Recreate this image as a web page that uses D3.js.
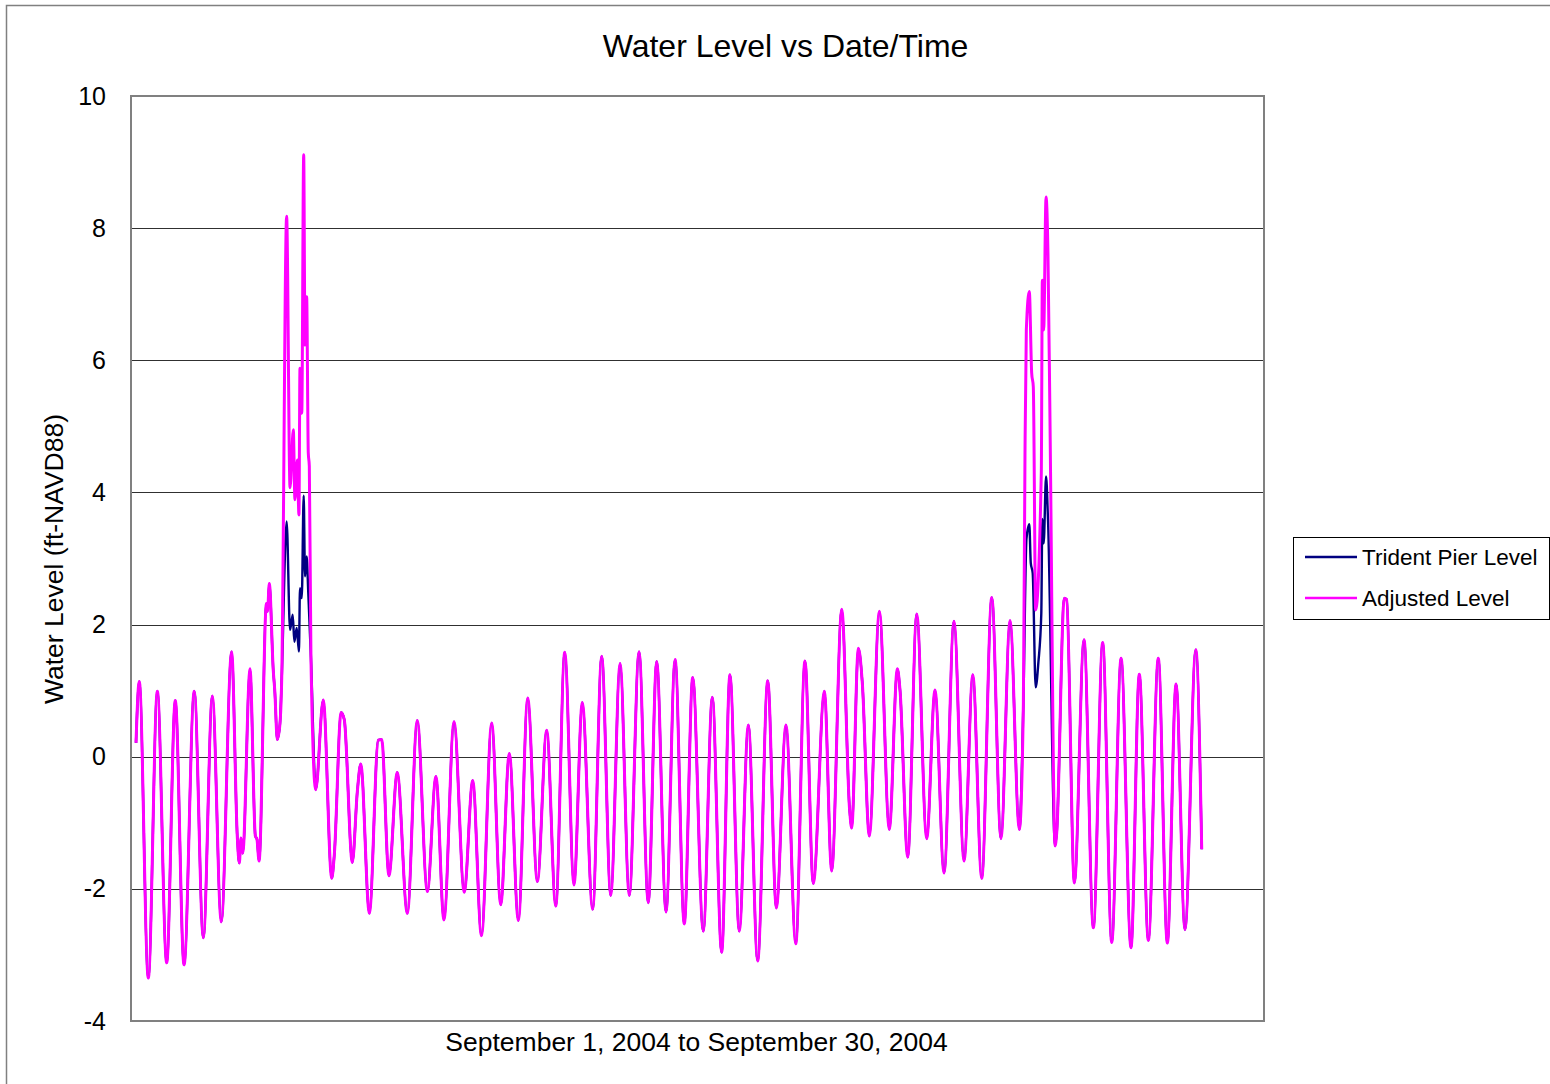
<!DOCTYPE html>
<html>
<head>
<meta charset="utf-8">
<title>Water Level vs Date/Time</title>
<script src="https://cdn.jsdelivr.net/npm/d3@7/dist/d3.min.js"></script>
<style>
  html, body { margin: 0; padding: 0; background: #fff; }
  svg { display: block; font-family: Arial, "Liberation Sans", sans-serif; }
</style>
</head>
<body>
<svg id="chart" width="1550" height="1084"></svg>
<script>
// Hourly record, September 1-30, 2004: hours since Sep 1 00:00 and level in ft (NAVD88).
// Turning points of the tide curve; the line is drawn through them.
const adjustedHours = [
  0, 2.2, 8.3, 14.4, 20.7, 26.5, 32.4, 39.3, 45.4, 51.5, 57.5, 64.5, 68.3, 69.7, 70.8, 72.0,
  76.9, 80.5, 81.6, 83.0, 88.0, 88.7, 89.9, 92.6, 93.6, 95.3, 97.1, 98.3, 101.6, 103.9, 106.1,
  107.2, 108.8, 109.9, 110.6, 111.8, 113.1, 114.0, 115.1, 116.2, 116.9, 118.0, 121.2, 126.3,
  132.0, 133.8, 138.3, 140.5, 145.9, 149.3, 151.6, 157.4, 163.4, 165.7, 170.6, 176.2, 183.0,
  189.7, 196.5, 202.3, 207.7, 214.5, 221.4, 227.1, 233.0, 239.9, 246.0, 251.8, 257.9, 264.2,
  270.7, 277.0, 283.1, 289.2, 295.4, 301.0, 308.0, 314.1, 320.2, 326.5, 332.7, 339.3, 345.5,
  351.2, 357.5, 363.6, 369.8, 375.5, 382.6, 388.7, 395.0, 400.6, 406.9, 413.0, 419.3, 426.1,
  431.9, 438.4, 445.0, 451.2, 456.8, 464.3, 469.2, 476.0, 481.3, 482.7, 487.2, 489.9, 494.6,
  501.4, 508.1, 513.5, 515.3, 520.5, 526.6, 533.3, 538.9, 545.0, 551.7, 558.5, 564.4, 570.4,
  577.2, 583.4, 589.5, 595.8, 598.5, 599.6, 600.5, 602.5, 604.1, 605.2, 606.8, 610.6, 611.3,
  612.2, 613.8, 615.1, 616.5, 619.9, 621.0, 626.1, 627.7, 632.9, 639.4, 645.7, 652.0, 658.1,
  664.4, 671.1, 676.7, 682.8, 689.5, 695.6, 701.5, 707.5, 714.8, 718.8
];
const adjustedLevels = [
  0.21, 1.14, -3.35, 0.99, -3.12, 0.85, -3.15, 0.99, -2.74, 0.92, -2.50, 1.59, -1.20, -1.61, -1.23, -1.46,
  1.33, -1.20, -1.25, -1.58, 2.32, 2.20, 2.62, 1.30, 1.00, 0.26, 0.50, 1.20, 8.18, 4.07, 4.95,
  3.89, 4.49, 3.66, 5.88, 5.20, 9.11, 6.23, 6.96, 4.60, 4.40, 1.50, -0.50, 0.86,
  -1.84, -1.47, 0.67, 0.56, -1.60, -0.52, -0.11, -2.37, 0.25, 0.26, -1.80, -0.24, -2.37,
  0.55, -2.04, -0.30, -2.47, 0.53, -2.05, -0.36, -2.71, 0.51, -2.24, 0.05, -2.48, 0.89,
  -1.89, 0.40, -2.26, 1.58, -1.94, 0.82, -2.31, 1.52, -2.10, 1.41, -2.10, 1.59, -2.21,
  1.44, -2.35, 1.47, -2.53, 1.20, -2.64, 0.90, -2.96, 1.24, -2.64, 0.48, -3.09, 1.15,
  -2.29, 0.48, -2.83, 1.45, -1.92, 0.99, -1.73, 2.23, -0.80, -1.08, 1.64, 1.11, -1.20,
  2.20, -1.10, 1.33, 1.01, -1.52, 2.16, -1.24, 1.01, -1.76, 2.05, -1.58, 1.24, -1.84,
  2.41, -1.24, 2.06, -1.10, 0.80, 4.60, 6.46, 7.04, 5.81, 5.60, 2.22, 4.30, 7.21,
  6.46, 8.47, 7.60, 5.00, -1.35, -1.15, 2.40, 2.38, -1.91, 1.77, -2.59, 1.73, -2.81,
  1.49, -2.89, 1.25, -2.78, 1.49, -2.82, 1.10, -2.62, 1.62, -1.40
];

// Trident Pier gauge readings during the two storm surges; elsewhere the
// pier level equals the adjusted level.
const pierStorm1Hours  = [98.3, 101.6, 103.9, 105.7, 106.8, 108.4, 109.9, 110.6, 111.8, 113.1, 114.0, 115.1, 116.2, 118.0];
const pierStorm1Levels = [1.20, 3.56, 1.92, 2.15, 1.74, 1.95, 1.59, 2.55, 2.40, 3.95, 2.73, 3.03, 2.48, 1.50];
const pierStorm2Hours  = [598.5, 600.6, 602.5, 603.5, 604.8, 606.8, 608.6, 610.6, 611.3, 612.2, 613.8, 615.1, 619.9];
const pierStorm2Levels = [0.80, 3.30, 3.52, 2.93, 2.78, 1.05, 1.42, 2.17, 3.60, 3.23, 4.24, 3.60, -1.35];

const yTicks = [-4, -2, 0, 2, 4, 6, 8, 10];
const seriesNames = ["Trident Pier Level", "Adjusted Level"];
const seriesColors = ["#000080", "#FF00FF"];

// Build point lists
const adjusted = adjustedHours.map((h, i) => ({ h, v: adjustedLevels[i] }));
const storms = [
  pierStorm1Hours.map((h, i) => ({ h, v: pierStorm1Levels[i] })),
  pierStorm2Hours.map((h, i) => ({ h, v: pierStorm2Levels[i] }))
];
let pier = adjusted.filter(p => !storms.some(s => p.h >= s[0].h && p.h <= s[s.length - 1].h));
storms.forEach(s => { pier = pier.concat(s); });
pier.sort((a, b) => a.h - b.h);

const svg = d3.select("#chart");
const plot = { left: 131, top: 96, right: 1264, bottom: 1021 };

// Chart area border (only left and top edges fall inside the canvas)
svg.append("rect")
  .attr("x", 6.5).attr("y", 5.5)
  .attr("width", 1600).attr("height", 1200)
  .attr("fill", "#fff").attr("stroke", "#808080").attr("stroke-width", 1.5);

const x = d3.scaleLinear().domain([-3.37, 760.8]).range([plot.left, plot.right]);
const y = d3.scaleLinear().domain([-4, 10]).range([plot.bottom, plot.top]);

// Horizontal gridlines
svg.append("g")
  .selectAll("line")
  .data(yTicks.filter(t => t > -4 && t < 10))
  .join("line")
  .attr("x1", plot.left).attr("x2", plot.right)
  .attr("y1", d => Math.round(y(d)) + 0.5).attr("y2", d => Math.round(y(d)) + 0.5)
  .attr("stroke", "#303030").attr("stroke-width", 1);

// Y axis labels (plain hyphen for negatives)
const yAxis = d3.axisLeft(y).tickValues(yTicks).tickSize(0).tickPadding(25).tickFormat(d => String(d));
const gy = svg.append("g").attr("transform", `translate(${plot.left},0)`).call(yAxis);
gy.select(".domain").remove();
gy.selectAll("text")
  .attr("font-family", "Arial, 'Liberation Sans', sans-serif")
  .attr("font-size", 25).attr("fill", "#000");

// Series lines
const line = d3.line().x(d => x(d.h)).y(d => y(d.v)).curve(d3.curveMonotoneX);
svg.append("path").datum(pier)
  .attr("d", line).attr("fill", "none")
  .attr("stroke", seriesColors[0]).attr("stroke-width", 2.4).attr("stroke-linejoin", "round");
svg.append("path").datum(adjusted)
  .attr("d", line).attr("fill", "none")
  .attr("stroke", seriesColors[1]).attr("stroke-width", 3).attr("stroke-linejoin", "round");

// Plot frame
svg.append("rect")
  .attr("x", plot.left).attr("y", plot.top)
  .attr("width", plot.right - plot.left).attr("height", plot.bottom - plot.top)
  .attr("fill", "none").attr("stroke", "#808080").attr("stroke-width", 2);

// Titles
svg.append("text")
  .attr("x", 785.5).attr("y", 57).attr("text-anchor", "middle")
  .attr("font-size", 32).attr("fill", "#000")
  .text("Water Level vs Date/Time");
svg.append("text")
  .attr("transform", "translate(63,559) rotate(-90)")
  .attr("text-anchor", "middle").attr("font-size", 26.5).attr("fill", "#000")
  .text("Water Level (ft-NAVD88)");
svg.append("text")
  .attr("x", 696.5).attr("y", 1051).attr("text-anchor", "middle")
  .attr("font-size", 26.5).attr("fill", "#000")
  .text("September 1, 2004 to September 30, 2004");

// Legend
const legend = svg.append("g");
legend.append("rect")
  .attr("x", 1293.5).attr("y", 537.5).attr("width", 256).attr("height", 82)
  .attr("fill", "#fff").attr("stroke", "#000").attr("stroke-width", 1);
seriesNames.forEach((name, i) => {
  const ly = 557 + i * 41;
  legend.append("line")
    .attr("x1", 1305).attr("x2", 1357).attr("y1", ly).attr("y2", ly)
    .attr("stroke", seriesColors[i]).attr("stroke-width", 2.5);
  legend.append("text")
    .attr("x", 1362).attr("y", ly + 8)
    .attr("font-size", 22.5).attr("fill", "#000")
    .text(name);
});
</script>
</body>
</html>
